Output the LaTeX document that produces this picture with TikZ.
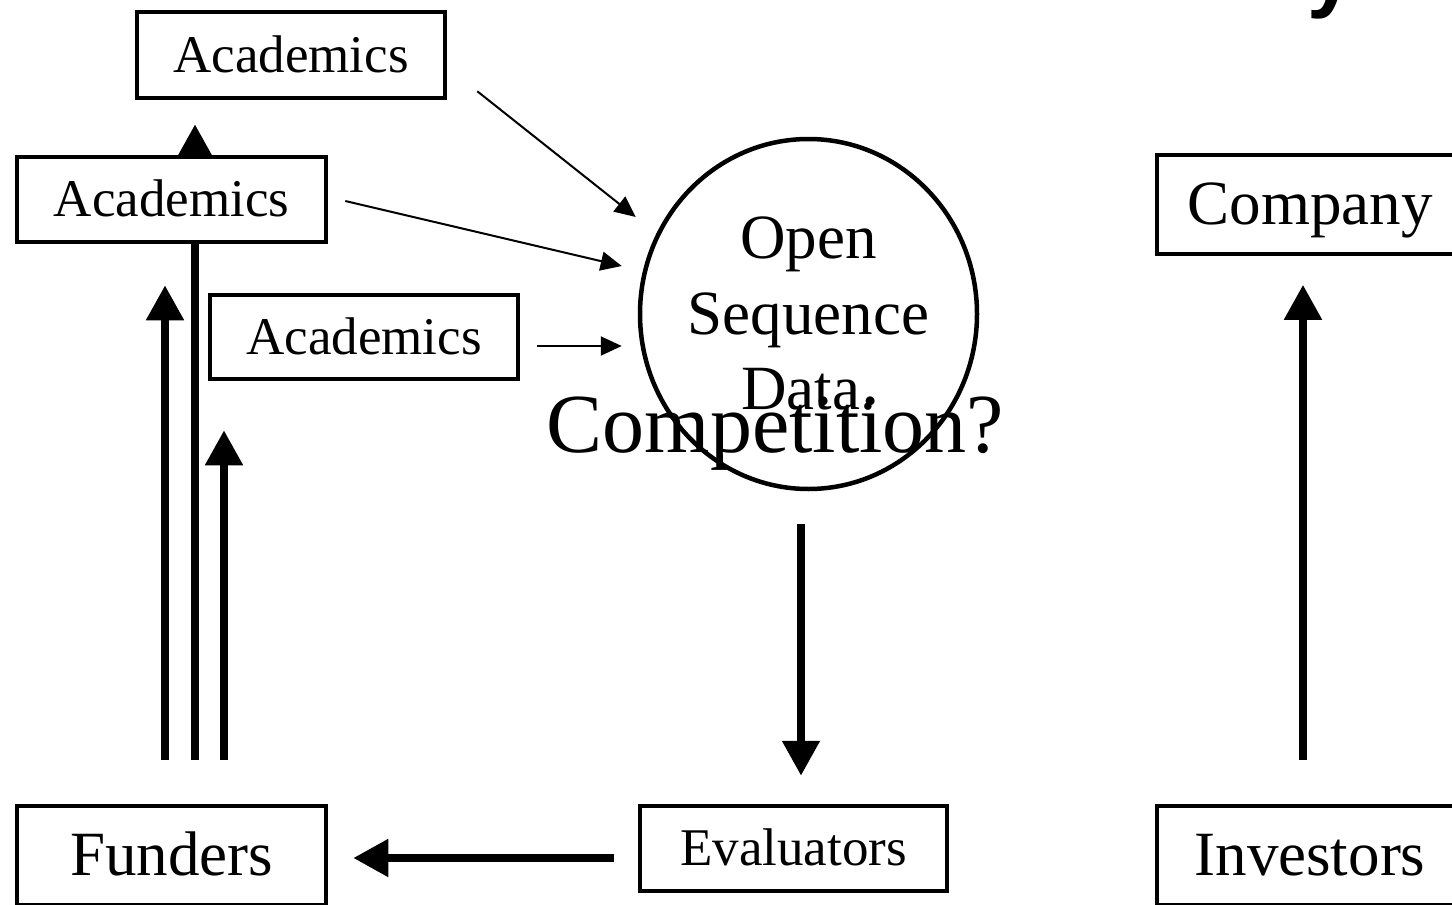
\documentclass[tikz,border=0pt]{standalone}
\usepackage{fontspec}
\setmainfont{Liberation Serif}
\newfontfamily\titlefont{Liberation Sans}
\usetikzlibrary{arrows.meta,shapes.geometric}

\begin{document}
\begin{tikzpicture}[x=1pt,y=-1pt,
    box/.style={draw,line width=4.5pt,fill=white,inner sep=0pt},
    smalltext/.style={font=\fontsize{53}{60}\selectfont,text height=34pt,text depth=0pt},
    bigtext/.style={font=\fontsize{63}{76}\selectfont,text height=40pt,text depth=0pt},
    fatarrow/.style={line width=8pt,-{Triangle[width=36pt,length=35pt]}},
    thinarrow/.style={line width=2pt,-{Triangle[width=19pt,length=21pt]}}]
        \useasboundingbox (0,0) rectangle (1452,905);
        \clip (0,0) rectangle (1452,905);
        %% title, cut off at the top
        \node[font=\titlefont\bfseries\fontsize{85}{90}\selectfont,inner sep=0pt,anchor=base west] (title) at (1307,1) {y};
        %% boxes
        \node[box,smalltext,minimum width=308,minimum height=86] (acadA) at (291,55) {Academics};
        \node[box,smalltext,minimum width=308,minimum height=84] (acadC) at (364,337) {Academics};
        \node[box,bigtext,minimum width=309,minimum height=99] (fund) at (171.5,855.5) {Funders};
        \node[box,smalltext,minimum width=307,minimum height=85] (eval) at (793.5,848.5) {Evaluators};
        \node[box,bigtext,minimum width=306,minimum height=99] (comp) at (1310,204.5) {Company};
        \node[box,bigtext,minimum width=306,minimum height=99] (inv) at (1310,855.5) {Investors};
        \node[draw,ellipse,line width=4.5pt,inner xsep=-5pt,inner ysep=0pt,minimum width=337,minimum height=350,
              align=center,font=\fontsize{63}{75.5}\selectfont] (data) at (808.5,314) {Open\\Sequence\\Data.};
        \node[font=\fontsize{84}{90}\selectfont,inner sep=0pt,anchor=base] (comptn) at (775.5,452) {Competition?};
        %% funding line behind the middle box
        \draw[fatarrow] ([xshift=23.5pt,yshift=44pt]fund.north) -- ([xshift=-96pt,yshift=-24pt]acadA.south);
        \node[box,smalltext,minimum width=309,minimum height=85] (acadB) at (171.5,199.5) {Academics};
        %% thick arrows
        \draw[fatarrow] ([xshift=-6.5pt,yshift=44pt]fund.north) -- ([xshift=-6.5pt,yshift=-41pt]acadB.south);
        \draw[fatarrow] ([xshift=52.5pt,yshift=44pt]fund.north) -- ([xshift=-140pt,yshift=-49pt]acadC.south);
        \draw[fatarrow] ([xshift=-7.5pt,yshift=-33pt]data.south) -- ([xshift=7.5pt,yshift=28pt]eval.north);
        \draw[fatarrow] ([xshift=-24pt,yshift=-9.5pt]eval.west) -- ([xshift=25pt,yshift=-2.5pt]fund.east);
        \draw[fatarrow] ([xshift=-7pt,yshift=44pt]inv.north) -- ([xshift=-7pt,yshift=-28.5pt]comp.south);
        %% thin arrows into the data
        \draw[thinarrow] ([xshift=30pt,yshift=9pt]acadA.south east) -- ([xshift=-2pt,yshift=97pt]data.west);
        \draw[thinarrow] ([xshift=17pt,yshift=-1.5pt]acadB.east) -- ([xshift=-16pt,yshift=48pt]data.west);
        \draw[thinarrow] ([xshift=17pt,yshift=-9pt]acadC.east) -- ([xshift=-16pt,yshift=-32pt]data.west);
    \end{tikzpicture}
\end{document}
